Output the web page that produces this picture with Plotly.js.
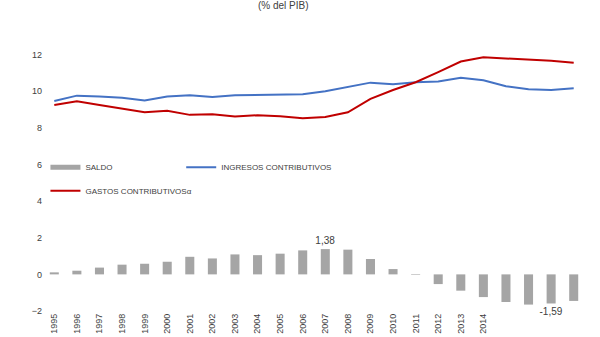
<!DOCTYPE html>
<html>
<head>
<meta charset="utf-8">
<script src="https://cdn.plot.ly/plotly-3.0.1.min.js"></script>
<style>html,body{margin:0;padding:0;background:#fff}#chart{width:600px;height:337px}</style>
</head>
<body>
<div id="chart"></div>
<script>
const years = ["1995","1996","1997","1998","1999","2000","2001","2002","2003","2004","2005","2006","2007","2008","2009","2010","2011","2012","2013","2014","2015","2016","2017","2018"];
const tickLabels = ["1995","1996","1997","1998","1999","2000","2001","2002","2003","2004","2005","2006","2007","2008","2009","2010","2011","2012","2013","2014","","","",""];
const saldo = [0.11,0.2,0.37,0.53,0.58,0.69,0.96,0.87,1.09,1.05,1.13,1.31,1.38,1.35,0.84,0.29,-0.03,-0.53,-0.89,-1.24,-1.51,-1.65,-1.59,-1.45];
const ingresos = [9.47,9.76,9.71,9.65,9.49,9.71,9.78,9.69,9.78,9.8,9.8,9.84,10.0,10.25,10.47,10.38,10.49,10.53,10.73,10.6,10.27,10.11,10.07,10.16];
const gastos = [9.25,9.45,9.25,9.05,8.85,8.93,8.71,8.75,8.62,8.69,8.64,8.53,8.6,8.85,9.58,10.07,10.49,11.04,11.62,11.85,11.8,11.76,11.67,11.56];
const labeledYears = ["2007","2017"];

const saldoText = saldo.map((v,i) => labeledYears.includes(years[i]) ? v.toFixed(2).replace('.', ',') : '');

const fam = "Liberation Sans, Arial, sans-serif";
const txt = '#404040';

const traces = [
  {type:'bar', x: years, y: saldo, name:'SALDO', marker:{color:'#a5a5a5'},
   text: saldoText, textposition:'outside', cliponaxis:false, constraintext:'none',
   textfont:{size:10, color:txt, family:fam}, showlegend:false},
  {type:'scatter', mode:'lines', x:[null], y:[null], name:'SALDO',
   line:{color:'#a5a5a5', width:5}, legend:'legend', hoverinfo:'skip'},
  {type:'scatter', mode:'lines', x: years, y: ingresos, name:'INGRESOS CONTRIBUTIVOS',
   line:{color:'#4472c4', width:2}, legend:'legend3'},
  {type:'scatter', mode:'lines', x: years, y: gastos, name:'GASTOS CONTRIBUTIVOSα',
   line:{color:'#c00000', width:2}, legend:'legend2'}
];

const legBase = {orientation:'h', xanchor:'left', yanchor:'middle',
                 bgcolor:'rgba(0,0,0,0)', font:{size:8, color:txt}, itemwidth:30};

const layout = {
  width:600, height:337,
  margin:{l:43, r:15, t:18, b:26},
  paper_bgcolor:'#fff', plot_bgcolor:'#fff',
  font: {family: fam, size: 9, color: txt},
  title:{text:'(% del PIB)', x:0.472, xref:'container', y:0.995, yref:'container', yanchor:'top',
         font:{size:10, color:txt, family:fam}},
  bargap:0.6,
  showlegend:true,
  xaxis:{type:'category', tickmode:'array', tickvals: years, ticktext: tickLabels,
         tickangle:-90, showgrid:false, zeroline:false, showline:false, ticks:'',
         tickfont:{size:9, color:txt}, range:[-0.5, 23.5], automargin:false},
  yaxis:{range:[-2,14], tickvals:[-2,0,2,4,6,8,10,12], showgrid:false, zeroline:false,
         showline:false, ticks:'', tickfont:{size:9, color:txt}, automargin:false},
  legend: Object.assign({}, legBase, {x:0.0045, y:0.491}),
  legend3: Object.assign({}, legBase, {x:0.255, y:0.491}),
  legend2: Object.assign({}, legBase, {x:0.0045, y:0.41})
};

Plotly.newPlot('chart', traces, layout, {displayModeBar:false, staticPlot:true});
</script>
</body>
</html>
